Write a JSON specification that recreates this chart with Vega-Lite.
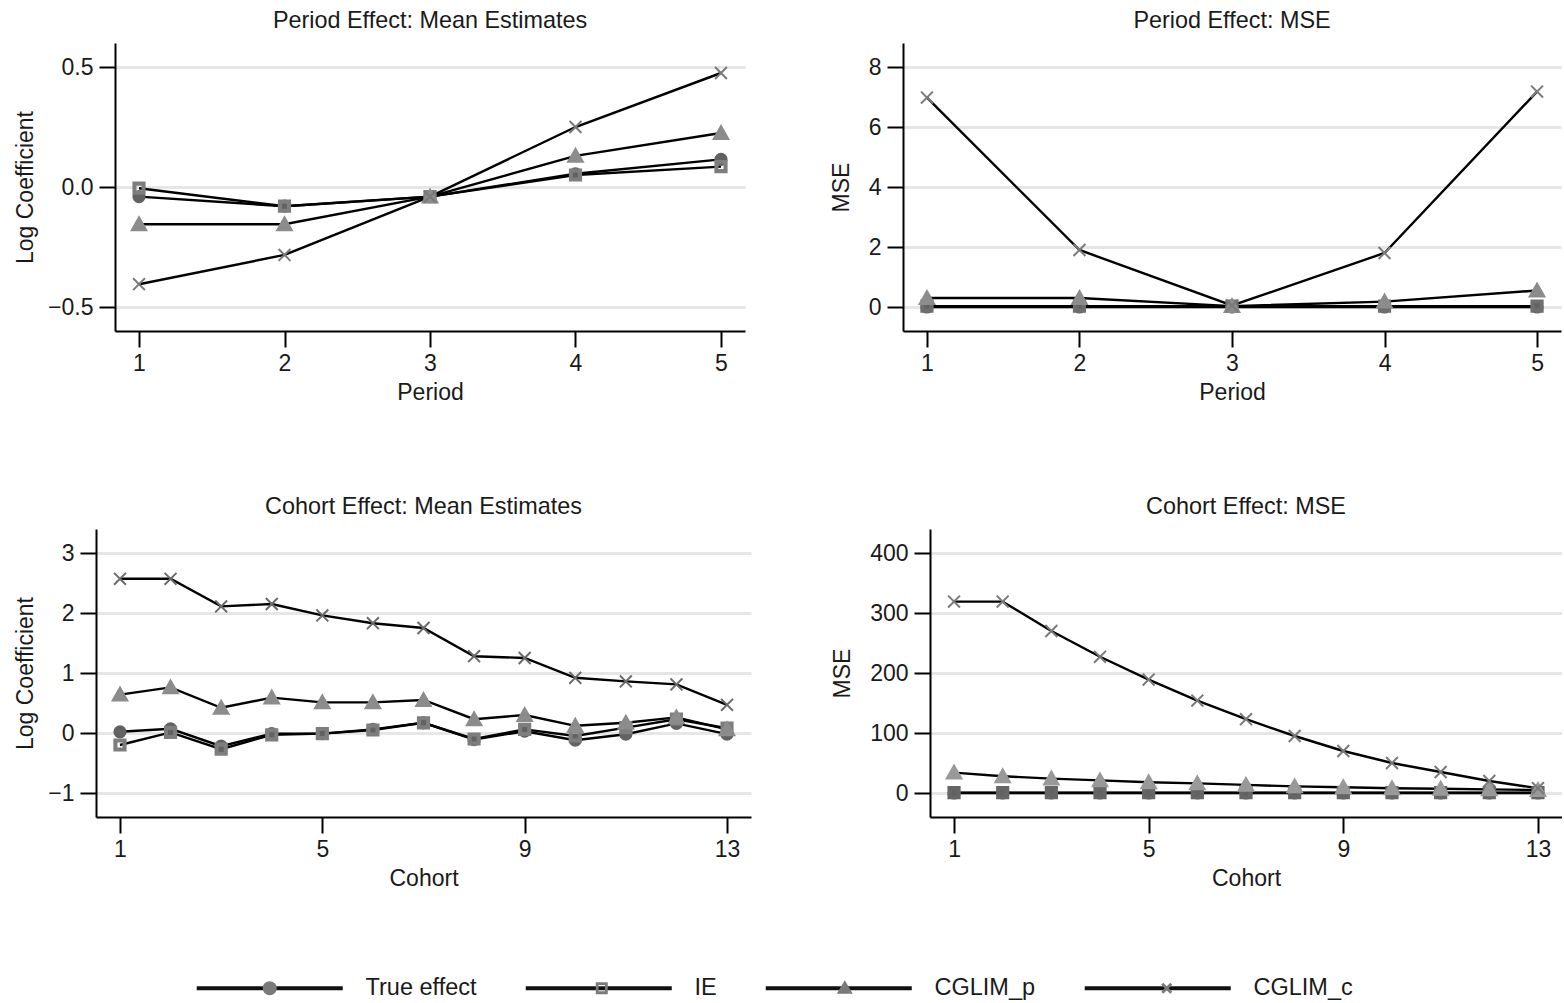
{
  "$schema": "https://vega.github.io/schema/vega-lite/v6.json",
  "background": "white",
  "padding": {"left": 13, "top": 8, "right": 0, "bottom": 0},
  "datasets": {
    "pm": [
      {"series": "True effect", "x": 1, "y": -0.04}, {"series": "True effect", "x": 2, "y": -0.08}, {"series": "True effect", "x": 3, "y": -0.04}, {"series": "True effect", "x": 4, "y": 0.055}, {"series": "True effect", "x": 5, "y": 0.115},
      {"series": "IE", "x": 1, "y": -0.005}, {"series": "IE", "x": 2, "y": -0.08}, {"series": "IE", "x": 3, "y": -0.04}, {"series": "IE", "x": 4, "y": 0.05}, {"series": "IE", "x": 5, "y": 0.085},
      {"series": "CGLIM_p", "x": 1, "y": -0.155}, {"series": "CGLIM_p", "x": 2, "y": -0.155}, {"series": "CGLIM_p", "x": 3, "y": -0.04}, {"series": "CGLIM_p", "x": 4, "y": 0.13}, {"series": "CGLIM_p", "x": 5, "y": 0.225},
      {"series": "CGLIM_c", "x": 1, "y": -0.405}, {"series": "CGLIM_c", "x": 2, "y": -0.283}, {"series": "CGLIM_c", "x": 3, "y": -0.04}, {"series": "CGLIM_c", "x": 4, "y": 0.25}, {"series": "CGLIM_c", "x": 5, "y": 0.475}
    ],
    "pmse": [
      {"series": "True effect", "x": 1, "y": 0}, {"series": "True effect", "x": 2, "y": 0}, {"series": "True effect", "x": 3, "y": 0}, {"series": "True effect", "x": 4, "y": 0}, {"series": "True effect", "x": 5, "y": 0},
      {"series": "IE", "x": 1, "y": 0.03}, {"series": "IE", "x": 2, "y": 0.03}, {"series": "IE", "x": 3, "y": 0.03}, {"series": "IE", "x": 4, "y": 0.03}, {"series": "IE", "x": 5, "y": 0.03},
      {"series": "CGLIM_p", "x": 1, "y": 0.3}, {"series": "CGLIM_p", "x": 2, "y": 0.3}, {"series": "CGLIM_p", "x": 3, "y": 0.03}, {"series": "CGLIM_p", "x": 4, "y": 0.18}, {"series": "CGLIM_p", "x": 5, "y": 0.55},
      {"series": "CGLIM_c", "x": 1, "y": 6.98}, {"series": "CGLIM_c", "x": 2, "y": 1.9}, {"series": "CGLIM_c", "x": 3, "y": 0.05}, {"series": "CGLIM_c", "x": 4, "y": 1.8}, {"series": "CGLIM_c", "x": 5, "y": 7.18}
    ],
    "cm": [
      {"series": "True effect", "x": 1, "y": 0.02}, {"series": "True effect", "x": 2, "y": 0.07}, {"series": "True effect", "x": 3, "y": -0.22}, {"series": "True effect", "x": 4, "y": -0.01}, {"series": "True effect", "x": 5, "y": -0.01}, {"series": "True effect", "x": 6, "y": 0.06}, {"series": "True effect", "x": 7, "y": 0.17}, {"series": "True effect", "x": 8, "y": -0.11}, {"series": "True effect", "x": 9, "y": 0.03}, {"series": "True effect", "x": 10, "y": -0.12}, {"series": "True effect", "x": 11, "y": -0.02}, {"series": "True effect", "x": 12, "y": 0.16}, {"series": "True effect", "x": 13, "y": -0.02},
      {"series": "IE", "x": 1, "y": -0.2}, {"series": "IE", "x": 2, "y": 0.01}, {"series": "IE", "x": 3, "y": -0.27}, {"series": "IE", "x": 4, "y": -0.03}, {"series": "IE", "x": 5, "y": -0.01}, {"series": "IE", "x": 6, "y": 0.05}, {"series": "IE", "x": 7, "y": 0.17}, {"series": "IE", "x": 8, "y": -0.1}, {"series": "IE", "x": 9, "y": 0.06}, {"series": "IE", "x": 10, "y": -0.05}, {"series": "IE", "x": 11, "y": 0.09}, {"series": "IE", "x": 12, "y": 0.23}, {"series": "IE", "x": 13, "y": 0.08},
      {"series": "CGLIM_p", "x": 1, "y": 0.64}, {"series": "CGLIM_p", "x": 2, "y": 0.76}, {"series": "CGLIM_p", "x": 3, "y": 0.42}, {"series": "CGLIM_p", "x": 4, "y": 0.59}, {"series": "CGLIM_p", "x": 5, "y": 0.51}, {"series": "CGLIM_p", "x": 6, "y": 0.51}, {"series": "CGLIM_p", "x": 7, "y": 0.55}, {"series": "CGLIM_p", "x": 8, "y": 0.23}, {"series": "CGLIM_p", "x": 9, "y": 0.3}, {"series": "CGLIM_p", "x": 10, "y": 0.12}, {"series": "CGLIM_p", "x": 11, "y": 0.17}, {"series": "CGLIM_p", "x": 12, "y": 0.26}, {"series": "CGLIM_p", "x": 13, "y": 0.06},
      {"series": "CGLIM_c", "x": 1, "y": 2.57}, {"series": "CGLIM_c", "x": 2, "y": 2.57}, {"series": "CGLIM_c", "x": 3, "y": 2.11}, {"series": "CGLIM_c", "x": 4, "y": 2.15}, {"series": "CGLIM_c", "x": 5, "y": 1.96}, {"series": "CGLIM_c", "x": 6, "y": 1.83}, {"series": "CGLIM_c", "x": 7, "y": 1.75}, {"series": "CGLIM_c", "x": 8, "y": 1.28}, {"series": "CGLIM_c", "x": 9, "y": 1.25}, {"series": "CGLIM_c", "x": 10, "y": 0.92}, {"series": "CGLIM_c", "x": 11, "y": 0.86}, {"series": "CGLIM_c", "x": 12, "y": 0.81}, {"series": "CGLIM_c", "x": 13, "y": 0.47}
    ],
    "cmse": [
      {"series": "True effect", "x": 1, "y": 0}, {"series": "True effect", "x": 2, "y": 0}, {"series": "True effect", "x": 3, "y": 0}, {"series": "True effect", "x": 4, "y": 0}, {"series": "True effect", "x": 5, "y": 0}, {"series": "True effect", "x": 6, "y": 0}, {"series": "True effect", "x": 7, "y": 0}, {"series": "True effect", "x": 8, "y": 0}, {"series": "True effect", "x": 9, "y": 0}, {"series": "True effect", "x": 10, "y": 0}, {"series": "True effect", "x": 11, "y": 0}, {"series": "True effect", "x": 12, "y": 0}, {"series": "True effect", "x": 13, "y": 0},
      {"series": "IE", "x": 1, "y": 0.5}, {"series": "IE", "x": 2, "y": 0.5}, {"series": "IE", "x": 3, "y": 0.5}, {"series": "IE", "x": 4, "y": 0.5}, {"series": "IE", "x": 5, "y": 0.5}, {"series": "IE", "x": 6, "y": 0.5}, {"series": "IE", "x": 7, "y": 0.5}, {"series": "IE", "x": 8, "y": 0.5}, {"series": "IE", "x": 9, "y": 0.5}, {"series": "IE", "x": 10, "y": 0.5}, {"series": "IE", "x": 11, "y": 0.5}, {"series": "IE", "x": 12, "y": 0.5}, {"series": "IE", "x": 13, "y": 0.5},
      {"series": "CGLIM_p", "x": 1, "y": 34}, {"series": "CGLIM_p", "x": 2, "y": 28}, {"series": "CGLIM_p", "x": 3, "y": 24}, {"series": "CGLIM_p", "x": 4, "y": 21}, {"series": "CGLIM_p", "x": 5, "y": 18}, {"series": "CGLIM_p", "x": 6, "y": 16}, {"series": "CGLIM_p", "x": 7, "y": 13.5}, {"series": "CGLIM_p", "x": 8, "y": 11}, {"series": "CGLIM_p", "x": 9, "y": 9.5}, {"series": "CGLIM_p", "x": 10, "y": 8}, {"series": "CGLIM_p", "x": 11, "y": 7}, {"series": "CGLIM_p", "x": 12, "y": 6}, {"series": "CGLIM_p", "x": 13, "y": 5},
      {"series": "CGLIM_c", "x": 1, "y": 319}, {"series": "CGLIM_c", "x": 2, "y": 319}, {"series": "CGLIM_c", "x": 3, "y": 270}, {"series": "CGLIM_c", "x": 4, "y": 227}, {"series": "CGLIM_c", "x": 5, "y": 189}, {"series": "CGLIM_c", "x": 6, "y": 154}, {"series": "CGLIM_c", "x": 7, "y": 123}, {"series": "CGLIM_c", "x": 8, "y": 95}, {"series": "CGLIM_c", "x": 9, "y": 70}, {"series": "CGLIM_c", "x": 10, "y": 50}, {"series": "CGLIM_c", "x": 11, "y": 35}, {"series": "CGLIM_c", "x": 12, "y": 20}, {"series": "CGLIM_c", "x": 13, "y": 8}
    ]
  },
  "spacing": 90,
  "vconcat": [
    {
      "spacing": 0,
      "hconcat": [
        {"width": 1, "height": 1, "data": {"values": []}, "mark": "point"},
        {
          "spacing": 85,
          "hconcat": [
            {
              "title": "Period Effect: Mean Estimates",
              "width": 630, "height": 288,
              "data": {"name": "pm"},
              "encoding": {
                "x": {"field": "x", "type": "quantitative", "scale": {"domain": [0.835, 5.165], "nice": false, "zero": false}, "axis": {"values": [1, 2, 3, 4, 5], "format": "d", "title": "Period"}},
                "y": {"field": "y", "type": "quantitative", "scale": {"domain": [-0.6, 0.6], "nice": false, "zero": false}, "axis": {"values": [-0.5, 0, 0.5], "format": ".1f", "title": "Log Coefficient", "titlePadding": 10}}
              },
              "layer": [
                {"mark": {"type": "line", "color": "black", "strokeWidth": 2.4}, "encoding": {"detail": {"field": "series"}}},
                {"transform": [{"filter": "datum.series === 'True effect'"}], "mark": {"type": "point", "shape": "M0.8,0A0.8,0.8,0,1,1,-0.8,0A0.8,0.8,0,1,1,0.8,0Z", "filled": true, "opacity": 1, "size": 196, "fill": "#626262", "stroke": "#626262", "strokeWidth": 2}},
                {"transform": [{"filter": "datum.series === 'IE'"}], "mark": {"type": "point", "shape": "M-0.8,-0.8L0.8,-0.8L0.8,0.8L-0.8,0.8ZM-0.5,-0.5L-0.5,0.5L0.5,0.5L0.5,-0.5Z", "filled": true, "opacity": 1, "size": 196, "fill": "#7e7e7e", "stroke": "#7e7e7e", "strokeWidth": 2}},
                {"transform": [{"filter": "datum.series === 'CGLIM_p'"}], "mark": {"type": "point", "shape": "M0,-1L1.05,0.85L-1.05,0.85Z", "filled": true, "opacity": 1, "size": 196, "fill": "#8c8c8c", "stroke": "#8c8c8c", "strokeWidth": 2}},
                {"transform": [{"filter": "datum.series === 'CGLIM_c'"}], "mark": {"type": "point", "shape": "M-0.85,-0.85L0.85,0.85M-0.85,0.85L0.85,-0.85", "filled": true, "opacity": 1, "size": 196, "fill": "#7a7a7a", "stroke": "#7a7a7a", "strokeWidth": 2}},
                {"mark": {"type": "point", "filled": true, "opacity": 0, "size": 1, "shape": "M-7.3,-0.2L7.3,-0.2L7.3,0.2L-7.3,0.2Z"},
                 "encoding": {
                   "fill": {"field": "series", "type": "nominal", "sort": ["True effect", "IE", "CGLIM_p", "CGLIM_c"],
                     "scale": {"range": ["#111111", "#111111", "#111111", "#111111"]},
                     "legend": {
                       "title": null, "orient": "none", "legendX": 245, "legendY": 933, "direction": "horizontal", "columns": 4,
                       "symbolSize": 400, "symbolOpacity": 1,
                       "labelOffset": 84, "columnPadding": 48, "labelFontSize": 23.5, "labelColor": "#1a1a1a"
                     }}
                 }},
                {"mark": {"type": "point", "filled": true, "opacity": 0, "size": 1, "fill": "#7a7a7a"},
                 "encoding": {
                   "shape": {"field": "series", "type": "nominal",
                     "scale": {"domain": ["True effect", "IE", "CGLIM_p", "CGLIM_c"], "range": [
                       "M-7.3,0L7.3,0M0.7,0A0.7,0.7,0,1,1,-0.7,0A0.7,0.7,0,1,1,0.7,0Z",
                       "M-7.3,0L7.3,0M-0.6,-0.6L0.6,-0.6L0.6,0.6L-0.6,0.6ZM-0.32,-0.32L-0.32,0.32L0.32,0.32L0.32,-0.32Z",
                       "M-7.3,0L7.3,0M0,-0.8L0.8,0.55L-0.8,0.55Z",
                       "M-7.3,0L7.3,0M-0.35,-0.55L0.55,0.35L0.35,0.55L-0.55,-0.35ZM0.55,-0.35L-0.35,0.55L-0.55,0.35L0.35,-0.55Z"]},
                     "legend": {
                       "title": null, "orient": "none", "legendX": 245, "legendY": 933, "direction": "horizontal", "columns": 4,
                       "symbolSize": 400, "symbolOpacity": 1, "labelOpacity": 0,
                       "labelOffset": 84, "columnPadding": 48, "labelFontSize": 23.5, "labelColor": "#1a1a1a"
                     }}
                 }}
              ]
            },
            {
              "title": "Period Effect: MSE",
              "width": 658, "height": 288,
              "data": {"name": "pmse"},
              "encoding": {
                "x": {"field": "x", "type": "quantitative", "scale": {"domain": [0.843, 5.157], "nice": false, "zero": false}, "axis": {"values": [1, 2, 3, 4, 5], "format": "d", "title": "Period"}},
                "y": {"field": "y", "type": "quantitative", "scale": {"domain": [-0.8, 8.8], "nice": false, "zero": false}, "axis": {"values": [0, 2, 4, 6, 8], "format": "d", "title": "MSE", "titlePadding": 15}}
              },
              "layer": [
                {"mark": {"type": "line", "color": "black", "strokeWidth": 2.4}, "encoding": {"detail": {"field": "series"}}},
                {"transform": [{"filter": "datum.series === 'True effect'"}], "mark": {"type": "point", "shape": "M0.8,0A0.8,0.8,0,1,1,-0.8,0A0.8,0.8,0,1,1,0.8,0Z", "filled": true, "opacity": 1, "size": 196, "fill": "#626262", "stroke": "#626262", "strokeWidth": 2}},
                {"transform": [{"filter": "datum.series === 'IE'"}], "mark": {"type": "point", "shape": "M-0.8,-0.8L0.8,-0.8L0.8,0.8L-0.8,0.8ZM-0.5,-0.5L-0.5,0.5L0.5,0.5L0.5,-0.5Z", "filled": true, "opacity": 1, "size": 196, "fill": "#6e6e6e", "stroke": "#6e6e6e", "strokeWidth": 2}},
                {"transform": [{"filter": "datum.series === 'CGLIM_p'"}], "mark": {"type": "point", "shape": "M0,-1L1.05,0.85L-1.05,0.85Z", "filled": true, "opacity": 1, "size": 196, "fill": "#8c8c8c", "stroke": "#8c8c8c", "strokeWidth": 2}},
                {"transform": [{"filter": "datum.series === 'CGLIM_c'"}], "mark": {"type": "point", "shape": "M-0.85,-0.85L0.85,0.85M-0.85,0.85L0.85,-0.85", "filled": true, "opacity": 1, "size": 196, "fill": "#7a7a7a", "stroke": "#7a7a7a", "strokeWidth": 2}}
              ]
            }
          ]
        }
      ]
    },
    {
      "spacing": 0,
      "hconcat": [
        {"width": 1, "height": 1, "data": {"values": []}, "mark": "point"},
        {
          "spacing": 80,
          "hconcat": [
            {
              "title": "Cohort Effect: Mean Estimates",
              "width": 655, "height": 288,
              "data": {"name": "cm"},
              "encoding": {
                "x": {"field": "x", "type": "quantitative", "scale": {"domain": [0.526, 13.474], "nice": false, "zero": false}, "axis": {"values": [1, 5, 9, 13], "format": "d", "title": "Cohort"}},
                "y": {"field": "y", "type": "quantitative", "scale": {"domain": [-1.4, 3.4], "nice": false, "zero": false}, "axis": {"values": [-1, 0, 1, 2, 3], "format": "d", "title": "Log Coefficient", "titlePadding": 10}}
              },
              "layer": [
                {"mark": {"type": "line", "color": "black", "strokeWidth": 2.4}, "encoding": {"detail": {"field": "series"}}},
                {"transform": [{"filter": "datum.series === 'True effect'"}], "mark": {"type": "point", "shape": "M0.8,0A0.8,0.8,0,1,1,-0.8,0A0.8,0.8,0,1,1,0.8,0Z", "filled": true, "opacity": 1, "size": 196, "fill": "#626262", "stroke": "#626262", "strokeWidth": 2}},
                {"transform": [{"filter": "datum.series === 'IE'"}], "mark": {"type": "point", "shape": "M-0.8,-0.8L0.8,-0.8L0.8,0.8L-0.8,0.8ZM-0.5,-0.5L-0.5,0.5L0.5,0.5L0.5,-0.5Z", "filled": true, "opacity": 1, "size": 196, "fill": "#7e7e7e", "stroke": "#7e7e7e", "strokeWidth": 2}},
                {"transform": [{"filter": "datum.series === 'CGLIM_p'"}], "mark": {"type": "point", "shape": "M0,-1L1.05,0.85L-1.05,0.85Z", "filled": true, "opacity": 1, "size": 196, "fill": "#8c8c8c", "stroke": "#8c8c8c", "strokeWidth": 2}},
                {"transform": [{"filter": "datum.series === 'CGLIM_c'"}], "mark": {"type": "point", "shape": "M-0.85,-0.85L0.85,0.85M-0.85,0.85L0.85,-0.85", "filled": true, "opacity": 1, "size": 196, "fill": "#6a6a6a", "stroke": "#6a6a6a", "strokeWidth": 2}}
              ]
            },
            {
              "title": "Cohort Effect: MSE",
              "width": 632, "height": 288,
              "data": {"name": "cmse"},
              "encoding": {
                "x": {"field": "x", "type": "quantitative", "scale": {"domain": [0.506, 13.494], "nice": false, "zero": false}, "axis": {"values": [1, 5, 9, 13], "format": "d", "title": "Cohort"}},
                "y": {"field": "y", "type": "quantitative", "scale": {"domain": [-40, 440], "nice": false, "zero": false}, "axis": {"values": [0, 100, 200, 300, 400], "format": "d", "title": "MSE", "titlePadding": 15}}
              },
              "layer": [
                {"mark": {"type": "line", "color": "black", "strokeWidth": 2.4}, "encoding": {"detail": {"field": "series"}}},
                {"transform": [{"filter": "datum.series === 'True effect'"}], "mark": {"type": "point", "shape": "M0.8,0A0.8,0.8,0,1,1,-0.8,0A0.8,0.8,0,1,1,0.8,0Z", "filled": true, "opacity": 1, "size": 196, "fill": "#626262", "stroke": "#626262", "strokeWidth": 2}},
                {"transform": [{"filter": "datum.series === 'IE'"}], "mark": {"type": "point", "shape": "M-0.8,-0.8L0.8,-0.8L0.8,0.8L-0.8,0.8ZM-0.5,-0.5L-0.5,0.5L0.5,0.5L0.5,-0.5Z", "filled": true, "opacity": 1, "size": 196, "fill": "#666666", "stroke": "#666666", "strokeWidth": 2}},
                {"transform": [{"filter": "datum.series === 'CGLIM_p'"}], "mark": {"type": "point", "shape": "M0,-1L1.05,0.85L-1.05,0.85Z", "filled": true, "opacity": 1, "size": 196, "fill": "#999999", "stroke": "#999999", "strokeWidth": 2}},
                {"transform": [{"filter": "datum.series === 'CGLIM_c'"}], "mark": {"type": "point", "shape": "M-0.85,-0.85L0.85,0.85M-0.85,0.85L0.85,-0.85", "filled": true, "opacity": 1, "size": 196, "fill": "#7a7a7a", "stroke": "#7a7a7a", "strokeWidth": 2}}
              ]
            }
          ]
        }
      ]
    }
  ],
  "config": {
    "font": "Liberation Sans",
    "view": {"stroke": null},
    "axis": {"domainColor": "black", "domainWidth": 2, "tickColor": "black", "tickWidth": 2, "tickSize": 16, "labelFontSize": 23, "titleFontSize": 23, "labelColor": "#1a1a1a", "titleColor": "#1a1a1a", "titleFontWeight": "normal", "labelPadding": 6, "grid": false},
    "axisY": {"grid": true, "gridColor": "#e6e6e6", "gridWidth": 3},
    "axisX": {"titlePadding": 6, "labelPadding": 5},
    "title": {"fontSize": 23.4, "fontWeight": "normal", "offset": 10, "color": "#1a1a1a"}
  }
}
